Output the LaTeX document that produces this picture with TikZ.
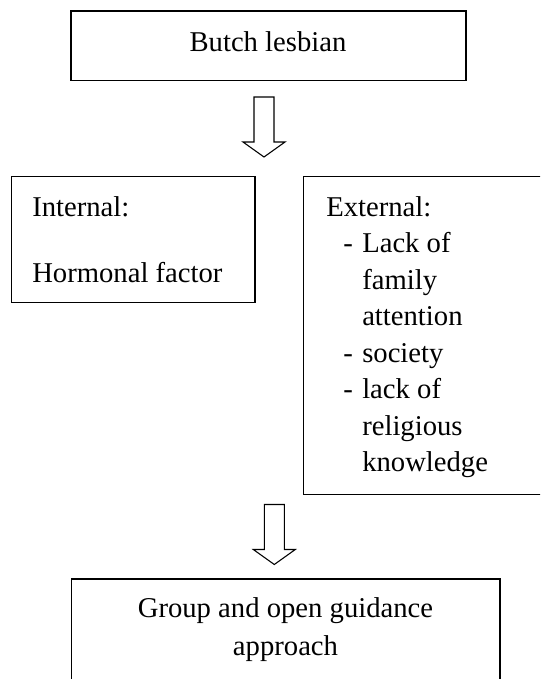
\documentclass[tikz,border=0pt]{standalone}
\usepackage{fontspec}
\setmainfont{Liberation Serif}
\begin{document}
\begin{tikzpicture}[x=0.75pt,y=-0.75pt,
  box/.style={draw=black, line width=1pt, fill=none, inner sep=0pt, rectangle},
  txt/.style={inner sep=0pt, font=\fontsize{21.5pt}{27.4pt}\selectfont},
  blockarrow/.pic={\draw[line width=0.8pt, line join=miter, fill=white]
     (-10,0) -- (10,0) -- (10,45) -- (21,45) -- (0,60) -- (-21,45) -- (-10,45) -- cycle;}]
\clip (0,0) rectangle (540,679);
\fill[white] (0,0) rectangle (540,679);
% boxes
\node[box, minimum width=296.25pt, minimum height=52.3pt] (top) at (268.5,45.85) {};
\node[box, minimum width=182.6pt, minimum height=94.5pt] (int) at (133.25,239.7) {};
\node[box, minimum width=192.5pt, minimum height=238.5pt] (ext) at (431.65,335.7) {};
\node[box, minimum width=321.3pt, minimum height=90.75pt] (bot) at (285.8,639.5) {};
% arrows
\pic at (264,97) {blockarrow};
\pic at (274.3,504.5) {blockarrow};
% texts
\node[txt, anchor=base] (t1) at (268,51) {Butch lesbian};
\node[txt, anchor=base west] (i1) at (32,216) {Internal:};
\node[txt, anchor=base west] (i2) at (32,282) {Hormonal factor};
\node[txt, anchor=base west] (e0) at (326,216) {External:};
\node[txt, anchor=base west] (d1) at (343,252.5) {-};
\node[txt, anchor=base west] (e1) at (362,252.5) {Lack of};
\node[txt, anchor=base west] (e2) at (362,289) {family};
\node[txt, anchor=base west] (e3) at (362,325.5) {attention};
\node[txt, anchor=base west] (d2) at (343,362) {-};
\node[txt, anchor=base west] (e4) at (362,362) {society};
\node[txt, anchor=base west] (d3) at (343,398.5) {-};
\node[txt, anchor=base west] (e5) at (362,398.5) {lack of};
\node[txt, anchor=base west] (e6) at (362,435) {religious};
\node[txt, anchor=base west] (e7) at (362,471.5) {knowledge};
\node[txt, anchor=base] (b1) at (285.5,617) {Group and open guidance};
\node[txt, anchor=base] (b2) at (285.5,655) {approach};
\end{tikzpicture}
\end{document}
